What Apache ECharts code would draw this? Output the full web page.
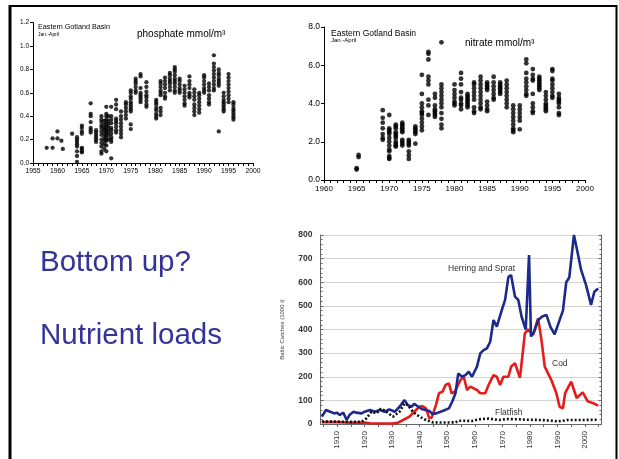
<!DOCTYPE html>
<html>
<head>
<meta charset="utf-8">
<script src="https://cdn.jsdelivr.net/npm/echarts@6/dist/echarts.min.js"></script>
<style>
  html, body { margin: 0; padding: 0; background: #fff; }
  #main { position: absolute; left: 0; top: 0; width: 619px; height: 459px; }
  #catch { position: absolute; left: 270px; top: 222px; width: 349px; height: 237px; filter: blur(0.5px); }
</style>
</head>
<body>
<div id="main"></div>
<div id="catch"></div>
<script>
// Winter (Jan.-April) phosphate, Eastern Gotland Basin, mmol/m3 — one list of samples per year column
const phosphateYears = [1957.8, 1959, 1960, 1960.8, 1961.1, 1963, 1964, 1965, 1966.8, 1967.9,
  1969, 1969.6, 1970, 1970.4, 1971, 1972, 1973, 1974, 1975, 1976, 1977, 1978.2,
  1980.2, 1981.1, 1982, 1983, 1984, 1985, 1986, 1987, 1988, 1989, 1990, 1991, 1992,
  1993, 1994, 1995, 1996];
const phosphateValues = [
  [0.13], [0.21, 0.13], [0.27, 0.21], [0.19], [0.12], [0.25],
  [0.22, 0.2, 0.18, 0.16, 0.14, 0.1, 0.06, 0.01],
  [0.32, 0.3, 0.27, 0.25, 0.13, 0.12, 0.1, 0.09],
  [0.51, 0.42, 0.4, 0.35, 0.3, 0.28, 0.26],
  [0.28, 0.26, 0.24, 0.22, 0.2, 0.18],
  [0.4, 0.37, 0.35, 0.32, 0.3, 0.27, 0.24, 0.2, 0.17, 0.14, 0.1, 0.08],
  [0.36, 0.33, 0.3, 0.28, 0.25, 0.22, 0.19, 0.16, 0.12],
  [0.48, 0.42, 0.4, 0.37, 0.34, 0.31, 0.28, 0.25, 0.22, 0.19, 0.15, 0.1],
  [0.4, 0.36, 0.33, 0.3, 0.27, 0.24, 0.2],
  [0.48, 0.4, 0.37, 0.34, 0.3, 0.28, 0.25, 0.22, 0.2, 0.18, 0.04],
  [0.54, 0.5, 0.46, 0.38, 0.36, 0.34, 0.31, 0.28, 0.26],
  [0.44, 0.4, 0.37, 0.34, 0.31, 0.28, 0.25, 0.22],
  [0.52, 0.5, 0.47, 0.44, 0.41, 0.38],
  [0.62, 0.6, 0.57, 0.55, 0.52, 0.5, 0.48, 0.46, 0.44, 0.33, 0.29],
  [0.72, 0.7, 0.68, 0.65, 0.62, 0.6],
  [0.76, 0.74, 0.64, 0.6, 0.58, 0.56, 0.54, 0.52],
  [0.69, 0.65, 0.61, 0.58, 0.56, 0.53, 0.5, 0.48],
  [0.54, 0.52, 0.5, 0.47, 0.45, 0.42, 0.4, 0.38],
  [0.7, 0.68, 0.65, 0.62, 0.6, 0.58, 0.47, 0.44, 0.41],
  [0.73, 0.7, 0.67, 0.64, 0.6, 0.57, 0.55],
  [0.77, 0.75, 0.72, 0.7, 0.68, 0.65, 0.62],
  [0.82, 0.8, 0.78, 0.75, 0.72, 0.7, 0.68, 0.65, 0.62, 0.6],
  [0.72, 0.7, 0.67, 0.64, 0.62, 0.6],
  [0.66, 0.63, 0.6, 0.57, 0.54, 0.51, 0.49],
  [0.74, 0.7, 0.67, 0.64, 0.6, 0.58, 0.56],
  [0.63, 0.6, 0.57, 0.54, 0.5, 0.47, 0.44, 0.41],
  [0.6, 0.58, 0.55, 0.52, 0.49, 0.46, 0.43],
  [0.75, 0.73, 0.7, 0.67, 0.64, 0.62, 0.6],
  [0.68, 0.65, 0.62, 0.58, 0.55, 0.52, 0.5],
  [0.92, 0.85, 0.82, 0.79, 0.76, 0.73, 0.7, 0.67, 0.64, 0.62],
  [0.8, 0.77, 0.75, 0.72, 0.7, 0.68, 0.66, 0.27],
  [0.6, 0.57, 0.54, 0.52, 0.5, 0.48, 0.46, 0.44],
  [0.76, 0.73, 0.7, 0.67, 0.64, 0.61, 0.58, 0.55, 0.52],
  [0.52, 0.5, 0.47, 0.45, 0.43, 0.41, 0.39, 0.37]
];

// Winter nitrate, Eastern Gotland Basin, mmol/m3
const nitrateYears = [1965, 1965.3, 1969, 1970, 1971, 1972, 1973, 1974, 1975, 1976, 1977, 1978,
  1980, 1981, 1982, 1983, 1984, 1985, 1986, 1987, 1988, 1989, 1990, 1991, 1992, 1993,
  1994, 1995, 1996];
const nitrateValues = [
  [0.62, 0.55], [1.31, 1.2],
  [3.65, 3.25, 3.0, 2.7, 2.4, 2.2, 2.1],
  [3.4, 2.7, 2.6, 2.5, 2.4, 2.2, 2.0, 1.8, 1.6, 1.5, 1.25, 1.15, 1.1],
  [2.9, 2.8, 2.7, 2.5, 2.4, 2.3, 2.2, 2.0, 1.9, 1.8, 1.75],
  [3.0, 2.9, 2.8, 2.7, 2.6, 2.5, 2.1, 2.0, 1.9, 1.8],
  [2.1, 2.0, 1.9, 1.8, 1.5, 1.3, 1.1],
  [2.8, 2.7, 2.6, 2.5, 2.4, 1.9],
  [5.5, 4.5, 4.0, 3.8, 3.6, 3.5, 3.4, 3.2, 3.0, 2.8, 2.6],
  [6.7, 6.6, 6.3, 5.4, 5.2, 5.0, 4.2, 3.9, 3.4],
  [4.5, 4.3, 3.9, 3.7, 3.6, 3.5, 3.4, 3.3],
  [7.2, 5.0, 4.8, 4.6, 4.4, 4.2, 4.0, 3.8, 3.5, 3.2, 2.9, 2.7],
  [5.0, 4.7, 4.5, 4.3, 4.1, 4.0, 3.9],
  [5.6, 5.3, 5.0, 4.6, 4.3, 4.2, 4.0, 3.9, 3.7],
  [4.5, 4.4, 4.3, 4.2, 4.1, 4.0, 3.9, 3.8],
  [5.1, 5.0, 4.8, 4.6, 4.4, 4.2, 3.8, 3.6, 3.5],
  [5.4, 5.2, 5.0, 4.8, 4.6, 4.4, 4.2, 4.0, 3.8, 3.7],
  [5.1, 5.0, 4.9, 4.8, 4.7, 4.1, 3.9, 3.7, 3.6],
  [5.4, 5.1, 4.9, 4.7, 4.5, 4.3, 4.2],
  [5.1, 5.0, 4.9, 4.8, 4.7, 4.6, 4.5],
  [5.2, 5.0, 4.8, 4.6, 4.4, 4.2, 4.0, 3.8],
  [3.9, 3.7, 3.5, 3.3, 3.1, 2.9, 2.7, 2.6, 2.5],
  [3.9, 3.7, 3.5, 3.3, 3.1, 2.65],
  [6.3, 6.1, 5.6, 5.3, 5.1, 4.9, 4.7, 4.5, 4.4],
  [5.8, 5.5, 5.3, 5.2, 4.5, 4.0, 3.8, 3.6, 3.5],
  [5.4, 5.3, 5.2, 5.1, 5.0, 4.9, 4.8, 4.7],
  [4.6, 4.4, 4.2, 4.0, 3.9, 3.8, 3.7, 3.6],
  [5.8, 5.7, 5.3, 5.2, 5.0, 4.8, 4.6, 4.4, 4.3],
  [4.5, 4.3, 4.2, 4.1, 4.0, 3.8, 3.5, 3.4]
];

// Baltic catches, 1000 t
const herringYears = [1904.5, 1906, 1907.5, 1909, 1910, 1911, 1912.3, 1913.5, 1914.5, 1916, 1917, 1919,
  1920, 1922, 1923.7, 1925.5, 1927.3, 1929, 1931, 1932.7, 1934.5, 1935.7, 1937, 1938, 1939.3,
  1941, 1943.5, 1944.7, 1946, 1948.3, 1950.6, 1951.8, 1953, 1954, 1955.4, 1956.6, 1957.8, 1959,
  1960.8, 1962, 1963.2, 1964.4, 1965.6, 1966.8, 1968, 1969.8, 1971, 1972.2, 1973.2, 1974.6,
  1975.8, 1977, 1978.5, 1979.7, 1980.4, 1981.5, 1983, 1984.5, 1986, 1987.5, 1989, 1990.5,
  1992, 1993.2, 1994.3, 1996, 1997.4, 1998.6, 1999.2, 2000.4, 2002.2, 2003.4, 2004.8];
const herringValues = [31, 59, 52, 45, 48, 38, 48, 17, 38, 52, 48, 45,
  52, 59, 52, 59, 52, 62, 52, 73, 101, 80, 73, 85, 75,
  62, 55, 42, 45, 55, 66, 94, 130, 214, 200, 207, 221, 200,
  243, 299, 313, 320, 348, 440, 412, 482, 525, 623, 630, 539,
  525, 454, 400, 715, 370, 390, 440, 455, 462, 410, 380, 430,
  480, 600, 620, 800, 722, 652, 659, 588, 504, 560, 574];

const codYears = [1904.5, 1910, 1915, 1920, 1922, 1926, 1930, 1932, 1934, 1936.3, 1938, 1939.9,
  1941, 1942.3, 1943.5, 1944.4, 1945.9, 1947, 1948.3, 1949.4, 1950.6, 1951.6, 1952.8, 1953.6,
  1954.8, 1956, 1957.2, 1958.4, 1959.6, 1960.8, 1962, 1963.8, 1965, 1966.8, 1968, 1969.2,
  1970.4, 1972.2, 1973.2, 1974.6, 1976.4, 1978.2, 1979.4, 1981.2, 1983, 1984.2, 1985.4,
  1987.8, 1989.6, 1990.8, 1992, 1992.8, 1995, 1997, 1999.2, 2001, 2002.8, 2004.8];
const codValues = [8, 8, 6, 6, 3, 2, 2, 5, 17, 31, 52, 73,
  76, 66, 24, 28, 80, 130, 137, 165, 172, 130, 137, 158,
  186, 200, 144, 158, 151, 144, 130, 130, 165, 207, 200, 165,
  200, 200, 243, 257, 195, 385, 400, 377, 447, 356, 243,
  186, 131, 73, 66, 131, 179, 110, 134, 96, 89, 78];

const flatfishYears = [1904.5, 1910, 1915, 1919, 1920.7, 1922.5, 1924.3, 1926, 1927.9, 1930.3, 1932.7,
  1934.5, 1935.7, 1937.5, 1939.9, 1942.3, 1944.7, 1948.3, 1953, 1954.2, 1959, 1961.4, 1965,
  1968.6, 1972.2, 1975.8, 1979.4, 1984.2, 1987.8, 1990.2, 1993.8, 1998.6, 2004.8];
const flatfishValues = [10, 10, 9, 10, 24, 52, 45, 66, 52, 31, 52,
  87, 80, 52, 31, 17, 7, 6, 7, 14, 13, 20, 23,
  17, 21, 20, 18, 17, 14, 11, 17, 17, 18];

const catchDecades = [1910, 1920, 1930, 1940, 1950, 1960, 1970, 1980, 1990, 2000];
const catchTickYears = [1905, 1910, 1915, 1920, 1925, 1930, 1935, 1940, 1945, 1950, 1955, 1960,
  1965, 1970, 1975, 1980, 1985, 1990, 1995, 2000, 2005];

function columnsToPoints(years, values) {
  const pts = [];
  years.forEach((y, i) => values[i].forEach(v => pts.push([y, v])));
  return pts;
}
function pairs(xs, ys) { return xs.map((x, i) => [x, ys[i]]); }

const FONT = 'Liberation Sans, Arial, sans-serif';

function yearAxis(idx, min, max, fs) {
  return {
    gridIndex: idx, type: 'value', min: min, max: max, interval: 1,
    axisLine: { lineStyle: { color: '#000', width: 1 } },
    axisTick: { length: 3, lineStyle: { color: '#000' } },
    axisLabel: { color: '#000', fontSize: fs, fontFamily: FONT, margin: 5,
      formatter: v => (v % 5 === 0 ? String(v) : '') },
    splitLine: { show: false }
  };
}
function concAxis(idx, max, step, fs) {
  return {
    gridIndex: idx, type: 'value', min: 0, max: max, interval: step,
    axisLine: { show: true, lineStyle: { color: '#000', width: 1 } },
    axisTick: { show: true, length: 3, lineStyle: { color: '#000' } },
    axisLabel: { color: '#000', fontSize: fs, fontFamily: FONT, margin: 4,
      formatter: v => v.toFixed(1) },
    splitLine: { show: false }
  };
}
function txt(x, y, s, size, color, extra) {
  return Object.assign({ type: 'text', x: x, y: y,
    style: { text: s, fontSize: size, fontFamily: FONT, fill: color || '#000',
      textVerticalAlign: 'middle' } }, extra || {});
}

const main = echarts.init(document.getElementById('main'), null, { renderer: 'canvas' });
main.setOption({
  backgroundColor: '#fff',
  animation: false,
  grid: [
    { left: 33, top: 22.6, width: 220, height: 140.4 },
    { left: 324, top: 27, width: 261, height: 153 }
  ],
  xAxis: [yearAxis(0, 1955, 2000, 6.8), yearAxis(1, 1960, 2000, 8)],
  yAxis: [concAxis(0, 1.2, 0.2, 6.5), concAxis(1, 8, 2, 8.5)],
  series: [
    { type: 'scatter', xAxisIndex: 0, yAxisIndex: 0, symbolSize: 4.3,
      itemStyle: { color: '#000' }, data: columnsToPoints(phosphateYears, phosphateValues) },
    { type: 'scatter', xAxisIndex: 1, yAxisIndex: 1, symbolSize: 4.8,
      itemStyle: { color: '#000' }, data: columnsToPoints(nitrateYears, nitrateValues) }
  ],
  graphic: [
    // slide frame
    { type: 'line', shape: { x1: 10, y1: 6, x2: 617, y2: 6 }, style: { stroke: '#000', lineWidth: 2 } },
    { type: 'line', shape: { x1: 10, y1: 5, x2: 10, y2: 459 }, style: { stroke: '#000', lineWidth: 3 } },
    { type: 'line', shape: { x1: 616.5, y1: 5, x2: 616.5, y2: 459 }, style: { stroke: '#000', lineWidth: 2 } },
    // panel captions
    txt(38, 27.5, 'Eastern Gotland Basin', 7.2),
    txt(38, 35, 'Jan.-April', 5),
    txt(137, 34, 'phosphate mmol/m³', 10),
    txt(331, 33.3, 'Eastern Gotland Basin', 8.5),
    txt(331, 40.7, 'Jan.-April', 6),
    txt(465, 43.3, 'nitrate mmol/m³', 10),
    txt(40, 263, 'Bottom up?', 29.5, '#33339a'),
    txt(40, 336, 'Nutrient loads', 29.5, '#33339a')
  ]
});

const catchChart = echarts.init(document.getElementById('catch'), null, { renderer: 'canvas' });
const frameColor = '#666';
catchChart.setOption({
  animation: false,
  grid: { left: 50.5, top: 13, width: 281, height: 189 },
  xAxis: [
    { type: 'value', min: 1904, max: 2006, position: 'bottom',
      axisLine: { lineStyle: { color: frameColor } },
      axisTick: { customValues: catchTickYears, length: 3, lineStyle: { color: frameColor } },
      axisLabel: { customValues: catchDecades, rotate: 90, fontSize: 8, color: '#333',
        fontFamily: FONT, margin: 7, formatter: v => String(v) },
      splitLine: { show: false } },
    { type: 'value', min: 1904, max: 2006, position: 'top',
      axisLine: { lineStyle: { color: frameColor } },
      axisTick: { customValues: catchTickYears, inside: true, length: 3, lineStyle: { color: frameColor } },
      axisLabel: { show: false },
      splitLine: { show: false } }
  ],
  yAxis: [
    { type: 'value', min: 0, max: 800, interval: 100, position: 'left',
      name: 'Baltic Catches (1000 t)', nameLocation: 'middle', nameGap: 35,
      nameTextStyle: { fontSize: 6, color: '#444', fontFamily: FONT },
      axisLine: { show: true, lineStyle: { color: frameColor } },
      axisTick: { show: true, length: 3, inside: true, lineStyle: { color: frameColor } },
      minorTick: { show: true, splitNumber: 5, length: 2, lineStyle: { color: frameColor } },
      axisLabel: { fontSize: 8.5, fontWeight: 'bold', color: '#333', fontFamily: FONT, margin: 8 },
      splitLine: { show: true, lineStyle: { color: '#d4d4d4', width: 1 } } },
    { type: 'value', min: 0, max: 800, interval: 100, position: 'right',
      axisLine: { show: true, lineStyle: { color: frameColor } },
      axisTick: { show: true, length: 3, inside: true, lineStyle: { color: frameColor } },
      minorTick: { show: true, splitNumber: 5, length: 2, lineStyle: { color: frameColor } },
      axisLabel: { show: false },
      splitLine: { show: false } }
  ],
  series: [
    { name: 'Cod', type: 'line', xAxisIndex: 0, yAxisIndex: 0, showSymbol: false,
      lineStyle: { color: '#e41c1c', width: 2.6 }, data: pairs(codYears, codValues) },
    { name: 'Herring and Sprat', type: 'line', xAxisIndex: 0, yAxisIndex: 0, showSymbol: false,
      lineStyle: { color: '#1b2a8c', width: 2.6 }, data: pairs(herringYears, herringValues) },
    { name: 'Flatfish', type: 'line', xAxisIndex: 0, yAxisIndex: 0, showSymbol: false,
      lineStyle: { color: '#111', width: 2.6, type: [2, 2] }, data: pairs(flatfishYears, flatfishValues) }
  ],
  graphic: [
    txt(178, 47, 'Herring and Sprat', 8.5, '#333'),
    txt(282, 142, 'Cod', 8.5, '#333'),
    txt(225, 191, 'Flatfish', 8.5, '#333')
  ]
});
</script>
</body>
</html>
